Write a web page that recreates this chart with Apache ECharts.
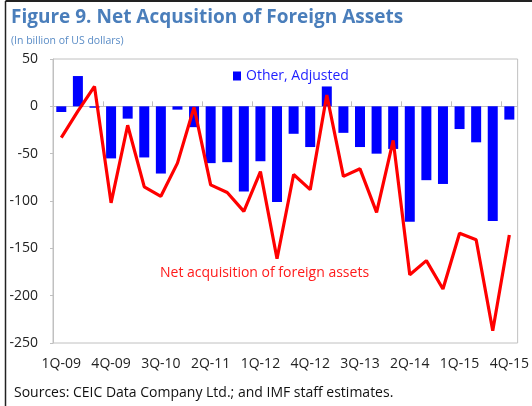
<!DOCTYPE html>
<html>
<head>
<meta charset="utf-8">
<script src="https://cdn.jsdelivr.net/npm/echarts@6/dist/echarts.min.js"></script>
<style>
  html, body { margin: 0; padding: 0; background: #fff; }
  #chart { width: 532px; height: 406px; }
</style>
</head>
<body>
<div id="chart"></div>
<script>
  // 季度
  const quarters = [
    '1Q-09', '2Q-09', '3Q-09', '4Q-09',
    '1Q-10', '2Q-10', '3Q-10', '4Q-10',
    '1Q-11', '2Q-11', '3Q-11', '4Q-11',
    '1Q-12', '2Q-12', '3Q-12', '4Q-12',
    '1Q-13', '2Q-13', '3Q-13', '4Q-13',
    '1Q-14', '2Q-14', '3Q-14', '4Q-14',
    '1Q-15', '2Q-15', '3Q-15', '4Q-15'
  ]
  // Other, Adjusted (bars)
  const otherAdjusted = [
    -6, 32, -1.5, -55, -13, -54, -71, -3.5, -22, -60, -59, -90, -58, -101,
    -29, -43, 21, -28, -43, -50, -45, -122, -78, -82, -24, -38, -121, -14
  ]
  // Net acquisition of foreign assets (line)
  const netAcquisition = [
    -33, -5, 21, -102, -20, -85, -95, -60, -1, -83, -91, -111, -69, -161,
    -72, -88, 12, -74, -66, -112, -36, -178, -163, -193, -134, -141, -237, -136
  ]
  const yTicks = { min: -250, max: 50, interval: 50 }

  const font = "'Open Sans', 'Liberation Sans', sans-serif"
  const chart = echarts.init(document.getElementById('chart'))

  const option = {
    animation: false,
    textStyle: { fontFamily: font },
    title: [
      {
        text: 'Figure 9. Net Acqusition of Foreign Assets',
        left: 6,
        top: 3,
        textStyle: { fontSize: 19, fontWeight: 'bold', color: '#4a7ebb', fontFamily: font }
      },
      {
        text: '(In billion of US dollars)',
        left: 6,
        top: 31,
        textStyle: { fontSize: 10.5, fontWeight: 'normal', color: '#5a8cc6', fontFamily: font }
      },
      {
        text: 'Sources: CEIC Data Company Ltd.; and IMF staff estimates.',
        left: 9,
        top: 381,
        textStyle: { fontSize: 14, fontWeight: 'normal', color: '#111', fontFamily: font }
      }
    ],
    legend: {
      data: [{ name: 'Other, Adjusted', icon: 'rect' }],
      left: 228,
      top: 64,
      itemWidth: 8,
      itemHeight: 9,
      itemGap: 4,
      textStyle: { color: '#1f1fff', fontSize: 14, fontFamily: font }
    },
    grid: {
      left: 53,
      right: 12,
      top: 59,
      bottom: 63,
      show: true,
      borderColor: '#c0c0c0',
      borderWidth: 1
    },
    xAxis: [
      {
        type: 'category',
        data: quarters,
        axisLine: { onZero: true, lineStyle: { color: '#c0c0c0' } },
        axisTick: { show: true, inside: true, length: 5, lineStyle: { color: '#c0c0c0' } },
        axisLabel: { show: false }
      },
      {
        type: 'category',
        data: quarters,
        position: 'bottom',
        axisLine: { show: false },
        axisTick: { show: false },
        axisLabel: {
          interval: 2,
          margin: 14,
          fontSize: 14,
          color: '#222',
          fontFamily: font
        }
      }
    ],
    yAxis: {
      type: 'value',
      min: yTicks.min,
      max: yTicks.max,
      interval: yTicks.interval,
      splitLine: { show: false },
      axisLine: { show: true, lineStyle: { color: '#c0c0c0' } },
      axisTick: { show: true, length: 3, lineStyle: { color: '#c0c0c0' } },
      axisLabel: { fontSize: 14, color: '#222', margin: 15, fontFamily: font }
    },
    series: [
      {
        name: 'Other, Adjusted',
        type: 'bar',
        xAxisIndex: 0,
        data: otherAdjusted,
        barWidth: 10,
        itemStyle: { color: '#0000ff' }
      },
      {
        name: 'Net acquisition of foreign assets',
        type: 'line',
        xAxisIndex: 0,
        data: netAcquisition,
        symbol: 'none',
        lineStyle: { color: '#ff0000', width: 3.2 },
        itemStyle: { color: '#ff0000' }
      }
    ],
    graphic: [
      {
        type: 'text',
        left: 160,
        top: 266,
        style: {
          text: 'Net acquisition of foreign assets',
          fill: '#ff1a1a',
          fontSize: 14,
          fontFamily: font
        }
      },
      // 外框
      {
        type: 'line',
        shape: { x1: 5.5, y1: 1, x2: 532, y2: 1 },
        style: { stroke: '#222', lineWidth: 2 }
      },
      {
        type: 'line',
        shape: { x1: 5.5, y1: 1, x2: 5.5, y2: 406 },
        style: { stroke: '#222', lineWidth: 1.5 }
      }
    ]
  }

  chart.setOption(option)
</script>
</body>
</html>
